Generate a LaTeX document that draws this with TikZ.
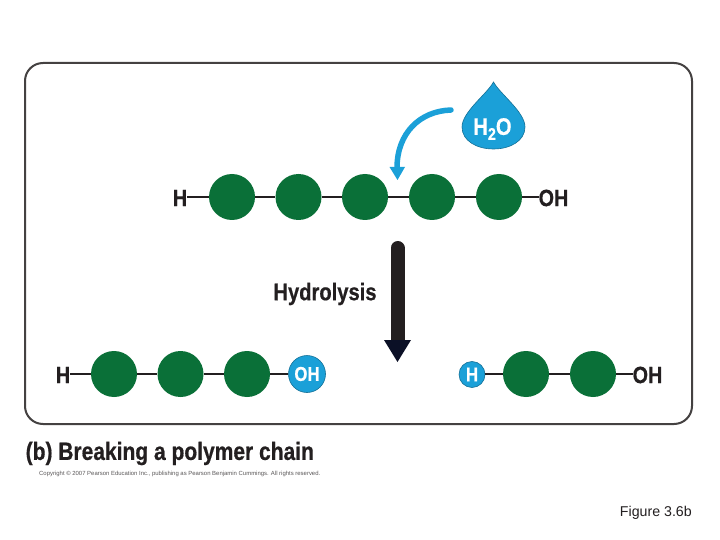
\documentclass[tikz,border=0pt]{standalone}
\usepackage{fontspec}
\setmainfont{Liberation Sans}
\newfontfamily\cond[FakeStretch=0.84,FakeBold=0.6]{Liberation Sans Bold}
\usetikzlibrary{arrows.meta}
\definecolor{mono}{HTML}{0A7038}
\definecolor{wblue}{HTML}{1BA0D8}
\definecolor{ink}{HTML}{231F20}
\definecolor{navy}{HTML}{0B1026}
\tikzset{
 mon/.style={circle,fill=mono,inner sep=0pt,minimum size=46pt},
 bond/.style={draw=ink,line width=1.5pt},
 atom/.style={font=\cond\fontsize{23.5}{24}\selectfont,text=ink,inner sep=0pt},
 bubble/.style={circle,fill=wblue,draw=wblue!70!black,line width=.6pt,inner sep=0pt,text=white},
}
\begin{document}
\begin{tikzpicture}[x=1pt,y=-1pt]
\useasboundingbox (0,0) rectangle (720,540);
\fill[white] (0,0) rectangle (720,540);
\node[draw=ink!85,line width=2pt,rounded corners=18pt,minimum width=667pt,minimum height=361pt,inner sep=0pt] (frame) at (358.5,243.5) {};
% top chain
\node[atom] (th) at (180,198) {H};
\node[mon] (t1) at (232,197) {};
\node[mon] (t2) at (298.5,197) {};
\node[mon] (t3) at (365,197) {};
\node[mon] (t4) at (432,197) {};
\node[mon] (t5) at (499,197) {};
\node[atom] (toh) at (553.5,198) {OH};
\draw[bond] (th.east |- t1.center) -- (t1);
\draw[bond] (t1) -- (t2);
\draw[bond] (t2) -- (t3);
\draw[bond] (t3) -- (t4);
\draw[bond] (t4) -- (t5);
\draw[bond] (t5) -- (toh.west |- t5.center);
% water drop
\draw[fill=wblue,draw=wblue!70!black,line width=.6pt] (493.5,82) .. controls (487,94) and (462,112) .. (462,127) .. controls (462,141) and (477,149) .. (493.5,149) .. controls (510,149) and (525,141) .. (525,127) .. controls (525,112) and (500,94) .. (493.5,82) -- cycle;
\node[inner sep=0pt,text=white,font=\cond\fontsize{24}{24}\selectfont] (water) at (492.5,129) {H\raisebox{-5pt}{\fontsize{17}{17}\selectfont 2}O};
\coordinate (bs) at (451,110);
\coordinate (be) at (397,168);
\draw[wblue,line width=5.5pt,line cap=round] (bs) .. controls (420,111) and (397,133) .. (be);
\fill[wblue] (389.5,167) -- (405,167) -- (397.5,180) -- cycle;
% hydrolysis
\node[inner sep=0pt,text=ink,font=\cond\fontsize{24}{24}\selectfont] (hy) at (325,294) {Hydrolysis};
\coordinate (as) at (397.5,248);
\coordinate (ae) at (397.5,345);
\draw[ink,line width=14pt,line cap=round] (as) -- (ae);
\fill[navy] (384,340) -- (411,340) -- (397.5,362) -- cycle;
% bottom left
\node[atom] (lh) at (63,375) {H};
\node[mon] (l1) at (114,374) {};
\node[mon] (l2) at (180.5,374) {};
\node[mon] (l3) at (247,374) {};
\node[bubble,minimum size=37pt,font=\cond\fontsize{20}{20}\selectfont] (loh) at (307,374) {OH};
\draw[bond] (lh.east |- l1.center) -- (l1);
\draw[bond] (l1) -- (l2);
\draw[bond] (l2) -- (l3);
\draw[bond] (l3) -- (loh.west |- l3.center);
% bottom right
\node[bubble,minimum size=26pt,font=\cond\fontsize{20}{20}\selectfont] (rh) at (472,374.5) {H};
\node[mon] (r1) at (526,374) {};
\node[mon] (r2) at (593,374) {};
\node[atom] (roh) at (647.5,375) {OH};
\draw[bond] (rh.east |- r1.center) -- (r1);
\draw[bond] (r1) -- (r2);
\draw[bond] (r2) -- (roh.west |- r2.center);
% captions
\node[anchor=west,inner sep=0pt,text=ink,font=\cond\fontsize{25}{25}\selectfont] (cap) at (25.5,453.5) {(b) Breaking a polymer chain};
\node[anchor=west,inner sep=0pt,text=ink!75,font=\fontsize{5.95}{6}\selectfont] (copy) at (39,473.5) {Copyright © 2007 Pearson Education Inc., publishing as Pearson Benjamin Cummings. All rights reserved.};
\node[anchor=east,inner sep=0pt,text=ink,font=\fontsize{14.2}{14.2}\selectfont] (fig) at (692,512.5) {Figure 3.6b};
\end{tikzpicture}
\end{document}
